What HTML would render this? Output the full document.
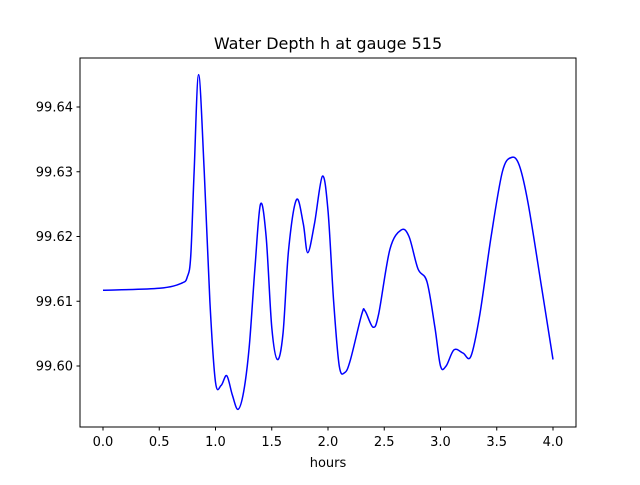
<!DOCTYPE html>
<html><head><meta charset="utf-8"><style>
body{margin:0;background:#fff}
svg text{font-family:"DejaVu Sans","Liberation Sans",sans-serif;font-size:13px;fill:#000}
</style></head><body>
<svg id="c" width="640" height="480">
<rect width="640" height="480" fill="#fff"/>
<text x="328" y="49" text-anchor="middle" style="font-size:16px">Water Depth h at gauge 515</text>
<g id="plot"></g>
<rect x="80" y="58" width="496" height="369" fill="none" stroke="#000" stroke-width="1"/>
<text x="328" y="467" text-anchor="middle">hours</text>
</svg>
<script>
const hours=[0,0.5,0.7,0.75,0.78,0.81,0.85,0.9,0.95,1.0,1.05,1.1,1.15,1.2,1.25,1.3,1.35,1.4,1.45,1.5,1.55,1.6,1.65,1.72,1.78,1.82,1.88,1.95,2.0,2.05,2.1,2.15,2.2,2.3,2.33,2.4,2.45,2.55,2.65,2.72,2.8,2.88,2.95,3.0,3.05,3.12,3.2,3.27,3.35,3.45,3.55,3.63,3.7,3.78,3.9,4.0];
const depth=[99.6117,99.612,99.6128,99.6138,99.617,99.630,99.645,99.630,99.610,99.5975,99.597,99.5985,99.5955,99.5933,99.596,99.603,99.615,99.625,99.620,99.606,99.601,99.605,99.618,99.6257,99.622,99.6175,99.622,99.6293,99.624,99.610,99.600,99.599,99.601,99.608,99.6085,99.606,99.608,99.618,99.621,99.620,99.615,99.613,99.606,99.600,99.600,99.6025,99.602,99.6015,99.608,99.620,99.630,99.6322,99.631,99.625,99.612,99.601];
const xTicks=[0,0.5,1,1.5,2,2.5,3,3.5,4];
const yTicks=[99.60,99.61,99.62,99.63,99.64];
const X=v=>103+v*112.5;
const Y=v=>366-(v-99.60)*6475;
const NS="http://www.w3.org/2000/svg";
const g=document.getElementById('plot');
function mk(t,a){const e=document.createElementNS(NS,t);for(const k in a)e.setAttribute(k,a[k]);g.appendChild(e);return e;}
xTicks.forEach(v=>{
 const l=mk('line',{x1:X(v),x2:X(v),y1:427,y2:430.5,stroke:'#000'});
 
 
 const t=mk('text',{x:X(v),y:446,'text-anchor':'middle'});t.textContent=v.toFixed(1);
 
 
});
yTicks.forEach(v=>{
 const l=mk('line',{x1:76.5,x2:80,y1:Y(v),y2:Y(v),stroke:'#000'});
 
 
 const t=mk('text',{x:73,y:Y(v)+4.5,'text-anchor':'end'});t.textContent=v.toFixed(2);
 
 
});
const P=hours.map((h,i)=>[X(h),Y(depth[i])]);
let d='M'+P[0][0]+','+P[0][1];
for(let i=0;i<P.length-1;i++){
 const p0=P[i-1]||P[i],p1=P[i],p2=P[i+1],p3=P[i+2]||P[i+1];
 const c1=[p1[0]+(p2[0]-p0[0])/6,p1[1]+(p2[1]-p0[1])/6];
 const c2=[p2[0]-(p3[0]-p1[0])/6,p2[1]-(p3[1]-p1[1])/6];
 d+=` C${c1[0]},${c1[1]} ${c2[0]},${c2[1]} ${p2[0]},${p2[1]}`;
}
const path=mk('path',{d:d,fill:'none',stroke:'#0000ff','stroke-width':1.5});


</script>
</body></html>
